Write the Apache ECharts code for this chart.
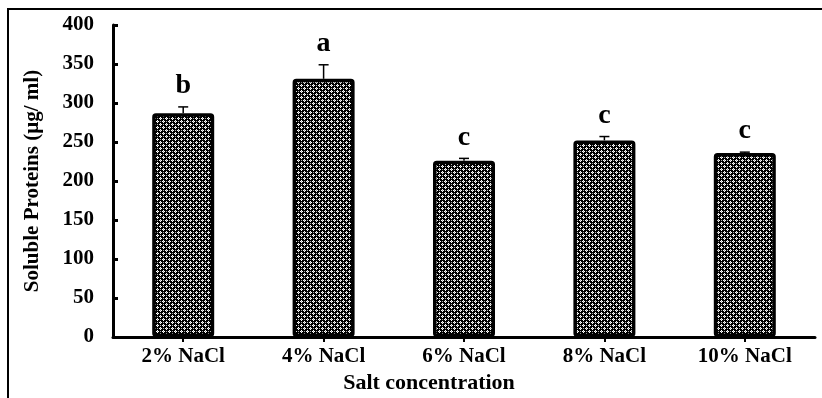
<!DOCTYPE html>
<html><head><meta charset="utf-8">
<script src="https://cdn.jsdelivr.net/npm/echarts@6/dist/echarts.min.js"></script>
<style>html,body{margin:0;padding:0;background:#fff}#c{width:822px;height:398px}</style>
</head><body><div id="c"></div>
<script>
var categories = ['2% NaCl', '4% NaCl', '6% NaCl', '8% NaCl', '10% NaCl'];
var values = [287, 331, 226, 252, 236];
var errors = [8, 18, 3, 5, 1];
var letters = ['b', 'a', 'c', 'c', 'c'];
var yTicks = [0, 50, 100, 150, 200, 250, 300, 350, 400];

// checkered fill pattern
var tile = document.createElement('canvas');
tile.width = 6; tile.height = 6;
var g = tile.getContext('2d');
g.fillStyle = '#000'; g.fillRect(0, 0, 6, 6);
g.fillStyle = '#fff';
[[1,0],[0,1],[2,1],[1,2],[4,3],[3,4],[5,4],[4,5]].forEach(function(p){ g.fillRect(p[0], p[1], 1, 1); });
g.fillStyle = '#aaa';
[[1,1],[4,4],[4,1],[1,4]].forEach(function(p){ g.fillRect(p[0], p[1], 1, 1); });

var FONT = '"Liberation Serif", "Times New Roman", serif';
var chart = echarts.init(document.getElementById('c'), null, {renderer: 'canvas'});
chart.setOption({
  animation: false,
  backgroundColor: '#fff',
  graphic: [{id: 'frame', type: 'rect', shape: {x: 8, y: 9, width: 830, height: 400}, style: {fill: 'none', stroke: '#000', lineWidth: 2}, z: -1}],
  grid: {left: 113, right: 7, top: 25, bottom: 61, containLabel: false, outerBoundsMode: 'none'},
  xAxis: {
    type: 'category', data: categories,
    name: 'Salt concentration', nameLocation: 'middle', nameGap: 35,
    nameTextStyle: {fontFamily: FONT, fontWeight: 'bold', fontSize: 22, color: '#000', padding: [0, 70, 0, 0]},
    axisLine: {lineStyle: {color: '#000', width: 3}},
    axisTick: {show: true, alignWithLabel: true, length: 5, lineStyle: {color: '#000', width: 2}},
    axisLabel: {fontFamily: FONT, fontWeight: 'bold', fontSize: 21, color: '#000', margin: 9}
  },
  yAxis: {
    type: 'value', min: 0, max: 400, interval: 50,
    name: 'Soluble Proteins (µg/ ml)', nameLocation: 'middle', nameGap: 70, nameRotate: 90,
    nameTextStyle: {fontFamily: FONT, fontWeight: 'bold', fontSize: 21, color: '#000'},
    axisLine: {show: true, lineStyle: {color: '#000', width: 3}},
    axisTick: {show: true, inside: true, length: 5, lineStyle: {color: '#000', width: 3}},
    splitLine: {show: false},
    axisLabel: {fontFamily: FONT, fontWeight: 'bold', fontSize: 21, color: '#000', margin: 19,
      formatter: function(v){ return yTicks.indexOf(v) >= 0 ? String(v) : ''; }}
  },
  series: [{
    type: 'bar', data: values, barWidth: 62,
    itemStyle: {color: {image: tile, repeat: 'repeat'}, borderColor: '#000', borderWidth: 3.5, borderRadius: 2}
  }, {
    type: 'custom',
    data: values.map(function(v, i){ return [i, v, errors[i]]; }),
    renderItem: function(params, api){
      var i = api.value(0), v = api.value(1), e = api.value(2);
      var base = api.coord([i, v]);
      var top = api.coord([i, v + e]);
      var lt = letters[params.dataIndex];
      return {type: 'group', children: [
        {type: 'line', shape: {x1: base[0], y1: base[1], x2: top[0], y2: top[1]}, style: {stroke: '#000', lineWidth: 1.5}},
        {type: 'line', shape: {x1: top[0] - 5, y1: top[1], x2: top[0] + 5, y2: top[1]}, style: {stroke: '#000', lineWidth: 1.5}},
        {type: 'text', x: top[0], y: top[1] - 7, style: {text: lt, fontFamily: FONT, fontWeight: 'bold', fontSize: 28, fill: '#000', align: 'center', verticalAlign: 'bottom'}}
      ]};
    },
    z: 5
  }]
});
// closing tick at the right end of the category axis
var endPx = chart.convertToPixel({gridIndex: 0}, [categories.length - 0.5, 0]);
chart.setOption({graphic: [{id: 'endTick', type: 'line', shape: {x1: endPx[0], y1: endPx[1], x2: endPx[0], y2: endPx[1] + 5}, style: {stroke: '#000', lineWidth: 2}}]});
</script></body></html>
